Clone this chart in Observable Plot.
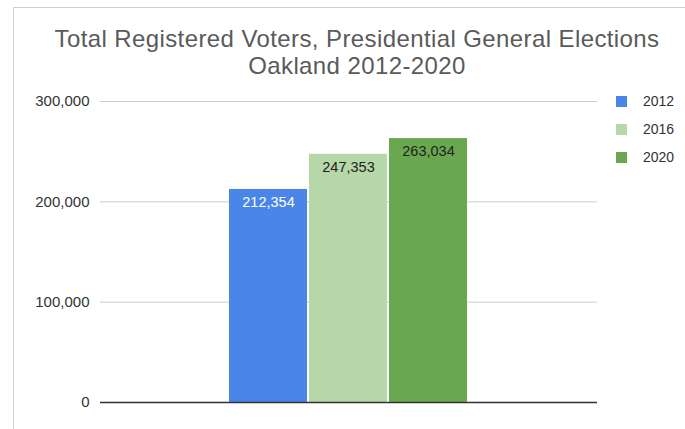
<!DOCTYPE html>
<html>
<head>
<meta charset="utf-8">
<script src="https://cdn.jsdelivr.net/npm/d3@7"></script>
<script src="https://cdn.jsdelivr.net/npm/@observablehq/plot@0.6"></script>
<style>
  html, body { margin: 0; padding: 0; background: #fff; }
  body { width: 685px; height: 429px; position: relative; overflow: hidden; font-family: "Liberation Sans", Arial, sans-serif; }
  #frame { position: absolute; left: 13px; top: 7px; right: -2px; bottom: -2px; border-left: 1.5px solid #d0d0d0; border-top: 1.5px solid #d0d0d0; }
  #title { position: absolute; left: 0; top: 25px; width: 714px; text-align: center; font-size: 24px; letter-spacing: 0.4px; line-height: 27px; color: #5a5a5a; }
  #chart { position: absolute; left: 0; top: 90px; }
  #legend { position: absolute; left: 616px; top: 87px; font-size: 14px; color: #333; }
  .li { display: flex; align-items: center; height: 28px; }
  .sw { width: 11px; height: 11px; margin-right: 16px; }
</style>
</head>
<body>
<div id="frame"></div>
<div id="title">Total Registered Voters, Presidential General Elections<br>Oakland 2012-2020</div>
<div id="chart"></div>
<div id="legend"></div>
<script>
const years = ["2012", "2016", "2020"];
const voters = [212354, 247353, 263034];
const colors = ["#4a86e8", "#b6d7a8", "#6aa84f"];
const labelColors = ["#ffffff", "#222222", "#222222"];
const yTicks = [0, 100000, 200000, 300000];

const data = years.map((y, i) => ({year: y, value: voters[i], color: colors[i], lc: labelColors[i]}));
const fmt = d3.format(",");

const plot = Plot.plot({
  width: 685,
  height: 339,
  marginTop: 11,
  marginBottom: 27,
  marginLeft: 100,
  marginRight: 88,
  style: {fontFamily: "Liberation Sans, Arial, sans-serif", fontSize: "15px", color: "#444"},
  x: {domain: years, range: [229, 467], paddingInner: 0.03, paddingOuter: 0, axis: null},
  y: {domain: [0, 300000], ticks: yTicks, label: null, tickFormat: fmt, tickSize: 0, tickPadding: 11},
  marks: [
    Plot.ruleY(yTicks.filter(d => d > 0), {stroke: "#cccccc", strokeWidth: 1}),
    Plot.barY(data, {x: "year", y: "value", fill: "color", inset: 0}),
    Plot.ruleY([0], {stroke: "#333333", strokeWidth: 1.5}),
    Plot.text(data, {x: "year", y: "value", text: d => fmt(d.value), fill: "lc", dy: 13, fontSize: 14.5}),
    Plot.axisY({ticks: yTicks, tickFormat: fmt, tickSize: 0, tickPadding: 11, label: null, fill: "#333", fontSize: 15})
  ]
});
document.getElementById("chart").appendChild(plot);

const legend = document.getElementById("legend");
years.forEach((y, i) => {
  const row = document.createElement("div");
  row.className = "li";
  row.innerHTML = `<div class="sw" style="background:${colors[i]}"></div><span>${y}</span>`;
  legend.appendChild(row);
});
</script>
</body>
</html>
